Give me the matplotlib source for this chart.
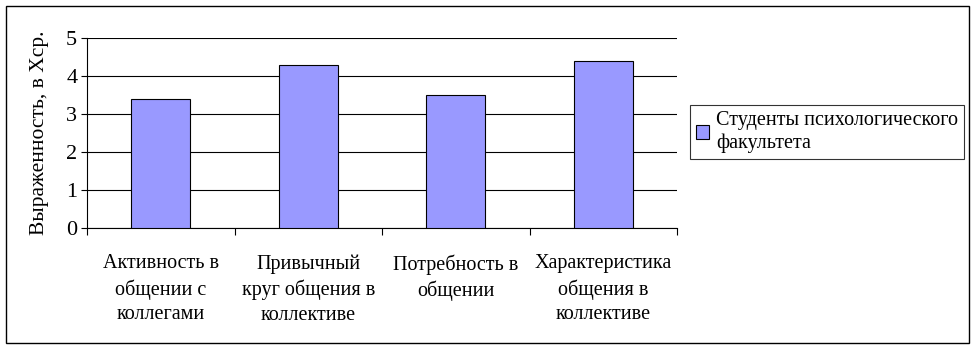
import matplotlib.pyplot as plt
from matplotlib.patches import Rectangle

plt.rcParams['font.family'] = ['Liberation Serif', 'DejaVu Serif']

# данные
categories = ['Активность в\nобщении с\nколлегами',
              'Привычный\nкруг общения в\nколлективе',
              'Потребность в\nобщении',
              'Характеристика\nобщения в\nколлективе']
values = [3.4, 4.3, 3.5, 4.4]
series_name = 'Студенты психологического\nфакультета'

W, H = 979, 351
fig = plt.figure(figsize=(W / 100, H / 100), dpi=100)
ax = fig.add_axes([87 / W, 1 - 228 / H, (677 - 87) / W, (228 - 38) / H])

x = list(range(len(values)))
ax.bar(x, values, width=0.4, color='#9999ff', edgecolor='black', linewidth=0.8,
       label=series_name, zorder=3)

ax.set_xlim(-0.5, len(values) - 0.5)
ax.set_ylim(0, 5)
ax.set_yticks(range(6))
ax.yaxis.grid(True, color='black', linewidth=0.8, zorder=0)
ax.set_axisbelow(True)

# подписи категорий без делений, деления на границах
ax.set_xticks(x)
ax.set_xticklabels(categories, fontsize=14.5, linespacing=1.38)
ax.tick_params(axis='x', length=0, pad=19)
ax.set_xticks([i - 0.5 for i in range(len(values) + 1)], minor=True)
ax.tick_params(axis='x', which='minor', length=5, direction='out', width=0.8)
ax.tick_params(axis='y', labelsize=16, length=4, width=0.8, pad=3)

for s in ['top', 'right']:
    ax.spines[s].set_visible(False)
for s in ['left', 'bottom']:
    ax.spines[s].set_linewidth(0.8)

ax.set_ylabel('Выраженность, в Хср.', fontsize=15.5, labelpad=12)

leg = fig.legend(loc='center left', bbox_to_anchor=(690 / W, 1 - 132 / H),
                 fontsize=14.5, frameon=True, fancybox=False, edgecolor='black',
                 handlelength=0.65, handleheight=0.65, handletextpad=0.35,
                 borderpad=0.3, borderaxespad=0, labelspacing=0.2)
leg.get_frame().set_linewidth(0.8)

# внешняя рамка
fig.patches.append(Rectangle((6 / W, 1 - 343 / H), (969 - 6) / W, (343 - 6) / H,
                             transform=fig.transFigure, fill=False,
                             edgecolor='black', linewidth=1))

fig.savefig('out.png', dpi=100)
